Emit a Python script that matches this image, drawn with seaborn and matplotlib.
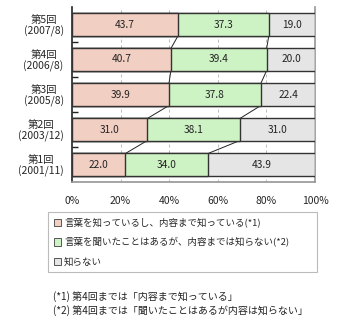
import matplotlib
matplotlib.use("Agg")
import matplotlib.pyplot as plt
import seaborn as sns
import pandas as pd
import numpy as np
from matplotlib.patches import Patch

sns.set_theme(style="white")
plt.rcParams['font.family'] = ['Noto Sans CJK JP', 'DejaVu Sans']

categories = ["第5回\n(2007/8)", "第4回\n(2006/8)", "第3回\n(2005/8)", "第2回\n(2003/12)", "第1回\n(2001/11)"]
know_content = [43.7, 40.7, 39.9, 31.0, 22.0]
heard_only = [37.3, 39.4, 37.8, 38.1, 34.0]
dont_know = [19.0, 20.0, 22.4, 31.0, 43.9]
series_names = ["言葉を知っているし、内容まで知っている(*1)",
                "言葉を聞いたことはあるが、内容までは知らない(*2)",
                "知らない"]
xtick_labels = ["0%", "20%", "40%", "60%", "80%", "100%"]
footnotes = ["(*1) 第4回までは「内容まで知っている」",
             "(*2) 第4回までは「聞いたことはあるが内容は知らない」"]
colors = ["#F2CFC3", "#CDF3C4", "#E5E5E5"]

df = pd.DataFrame({"cat": categories, "a": know_content, "b": heard_only, "c": dont_know})
df["c1"] = df["a"]
df["c2"] = df["a"] + df["b"]
df["c3"] = df["a"] + df["b"] + df["c"]

fig = plt.figure(figsize=(3.4, 3.25), dpi=100)
ax = fig.add_axes([72/340, 1-182/325, (315-72)/340, (182-7)/325])

bw = 0.63
for col, colr in zip(["c3", "c2", "c1"], colors[::-1]):
    sns.barplot(data=df, y="cat", x=col, orient="h", color=colr, width=bw,
                edgecolor="#333333", linewidth=1.0, saturation=1, ax=ax, zorder=3)

# segment labels
for i, row in df.iterrows():
    starts = [0, row["c1"], row["c2"]]
    vals = [row["a"], row["b"], row["c"]]
    for s, v in zip(starts, vals):
        ax.text(s + v/2, i, f"{v:.1f}", ha="center", va="center", fontsize=7.3,
                color="#222222", zorder=5)

# connector lines between adjacent bars
for i in range(len(df) - 1):
    for col in ["c1", "c2"]:
        x_upper = df[col].iloc[i]
        x_lower = df[col].iloc[i+1]
        ax.plot([x_lower, x_upper], [i + 1 - bw/2, i + bw/2], color="#222222",
                lw=0.7, zorder=2)

ax.set_xlim(0, 100)
ax.set_ylim(4.5, -0.5)
ax.set_xticks([0, 20, 40, 60, 80, 100])
ax.set_xticklabels(xtick_labels, fontsize=7.5)
ax.set_xlabel("")
ax.set_ylabel("")
ax.tick_params(axis="x", length=0, pad=10)
ax.set_yticks(range(5))
ax.set_yticklabels(categories, fontsize=7.5, multialignment="center", linespacing=1.05)
ax.tick_params(axis="y", length=0, pad=6)
ax.set_yticks([0.5, 1.5, 2.5, 3.5], minor=True)
ax.tick_params(axis="y", which="minor", direction="in", length=4, width=1, color="#222222", left=True)
for x in [20, 40, 60, 80]:
    ax.axvline(x, color="#BBBBBB", lw=0.7, ls=(0, (3, 3)), zorder=0)
ax.spines["top"].set_visible(False)
ax.spines["left"].set_color("#222222")
ax.spines["left"].set_linewidth(1.2)
ax.spines["bottom"].set_color("#999999")
ax.spines["right"].set_color("#999999")

handles = [Patch(facecolor=c, edgecolor="#555555", linewidth=0.7) for c in colors]
leg = fig.legend(handles, series_names, loc="upper left", mode="expand",
                 bbox_to_anchor=(48/340, 1-276/325, (317-48)/340, (276-212)/325),
                 fontsize=6.8, frameon=True,
                 fancybox=False, edgecolor="#AAAAAA", handlelength=0.8, handleheight=0.8,
                 handletextpad=0.3, labelspacing=1.05, borderpad=0.6, borderaxespad=0)
leg.get_frame().set_linewidth(0.8)

fig.text(53/340, 1-297/325, footnotes[0], fontsize=7.2, va="center", ha="left", color="#222222")
fig.text(53/340, 1-311/325, footnotes[1], fontsize=7.2, va="center", ha="left", color="#222222")

fig.savefig("out.png", dpi=100)
